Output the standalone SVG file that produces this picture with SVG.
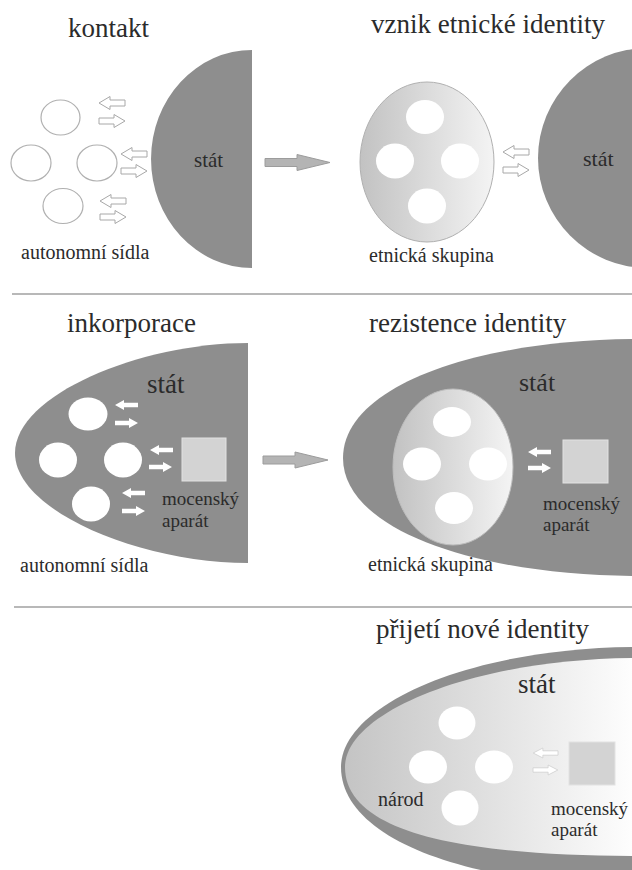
<svg xmlns="http://www.w3.org/2000/svg" width="632" height="870" viewBox="0 0 632 870">
<defs>
<path id="har" d="M0,-3 H15 V-6.5 L26,0 L15,6.5 V3 H0 Z" fill="#fff" stroke="#a8a8a8" stroke-width="1"/>
<path id="sar" d="M0,-2.2 H14 V-5 L23,0 L14,5 V2.2 H0 Z" fill="#fff"/>
<path id="par" d="M0,-2.2 H14 V-5 L23,0 L14,5 V2.2 H0 Z" fill="#fff" stroke="#d0d0d0" stroke-width="0.8"/>
<linearGradient id="g1" x1="0" y1="0" x2="1" y2="0">
<stop offset="0" stop-color="#c2c2c2"/><stop offset="1" stop-color="#f4f4f4"/>
</linearGradient>
<linearGradient id="g5" x1="0" y1="0" x2="1" y2="0">
<stop offset="0" stop-color="#c4c4c4"/><stop offset="1" stop-color="#ffffff"/>
</linearGradient>
</defs>

<g id="separators" stroke="#b8b8b8" stroke-width="2">
<line x1="12" y1="294" x2="632" y2="294"/>
<line x1="14" y1="607" x2="632" y2="607"/>
</g>

<g id="panel-kontakt">
<text style="font-family:'Liberation Serif'" fill="#2b2b2b" font-size="27" x="68" y="37">kontakt</text>
<path fill="#8e8e8e" d="M252,50 A101,109 0 0 0 252,268 Z"/>
<text style="font-family:'Liberation Serif'" fill="#2b2b2b" x="194" y="167" font-size="21">stát</text>
<g fill="#fff" stroke="#b0b0b0" stroke-width="1.2">
<ellipse cx="60.5" cy="117.5" rx="19.5" ry="17.5"/>
<ellipse cx="31" cy="163" rx="20" ry="18"/>
<ellipse cx="97" cy="163" rx="20" ry="18"/>
<ellipse cx="63" cy="206" rx="20" ry="17.5"/>
</g>
<text style="font-family:'Liberation Serif'" fill="#2b2b2b" font-size="20" x="21" y="259">autonomní sídla</text>
</g>

<g id="panel-vznik">
<text style="font-family:'Liberation Serif'" fill="#2b2b2b" font-size="27" x="371" y="33">vznik etnické identity</text>
<ellipse cx="427" cy="162" rx="67" ry="80" fill="url(#g1)" stroke="#b0b0b0" stroke-width="1"/>
<g fill="#fff">
<ellipse cx="425" cy="117" rx="19" ry="17"/>
<ellipse cx="395" cy="161" rx="19" ry="17.5"/>
<ellipse cx="460" cy="161" rx="19" ry="17.5"/>
<ellipse cx="427" cy="206" rx="19" ry="17.5"/>
</g>
<text style="font-family:'Liberation Serif'" fill="#2b2b2b" font-size="20" x="369" y="262">etnická skupina</text>
<circle fill="#8e8e8e" cx="648" cy="158" r="110"/>
<text style="font-family:'Liberation Serif'" fill="#2b2b2b" x="583" y="166" font-size="22">stát</text>
</g>

<g id="panel-inkorporace">
<text style="font-family:'Liberation Serif'" fill="#2b2b2b" font-size="27" x="67" y="332">inkorporace</text>
<path fill="#8e8e8e" d="M248,343 C140,343 15,395 15,453 C15,511 140,563 248,563 Z"/>
<text style="font-family:'Liberation Serif'" fill="#2b2b2b" x="147" y="393" font-size="27">stát</text>
<g fill="#fff">
<ellipse cx="88" cy="414" rx="19.5" ry="16.5"/>
<ellipse cx="58" cy="460" rx="19" ry="17.5"/>
<ellipse cx="123" cy="460" rx="19" ry="17.5"/>
<ellipse cx="91" cy="504" rx="19" ry="17.5"/>
</g>
<rect fill="#d3d3d3" stroke="#e2e2e2" x="182" y="438" width="44" height="43"/>
<text style="font-family:'Liberation Serif'" fill="#2b2b2b" font-size="19" x="162" y="505">mocenský</text>
<text style="font-family:'Liberation Serif'" fill="#2b2b2b" font-size="19" x="162" y="527">aparát</text>
<text style="font-family:'Liberation Serif'" fill="#2b2b2b" font-size="20" x="20" y="572">autonomní sídla</text>
</g>

<g id="panel-rezistence">
<text style="font-family:'Liberation Serif'" fill="#2b2b2b" font-size="27" x="369" y="332">rezistence identity</text>
<path fill="#8e8e8e" d="M640,339 C480,339 343,385 343,458 C343,531 480,576 640,576 Z"/>
<text style="font-family:'Liberation Serif'" fill="#2b2b2b" x="519" y="391" font-size="26">stát</text>
<ellipse cx="453" cy="467" rx="60" ry="78" fill="url(#g1)" stroke="#bdbdbd" stroke-width="1"/>
<g fill="#fff">
<ellipse cx="452" cy="422" rx="19" ry="15"/>
<ellipse cx="422" cy="464" rx="19" ry="16.5"/>
<ellipse cx="488" cy="464" rx="19" ry="16.5"/>
<ellipse cx="454" cy="508" rx="19" ry="16"/>
</g>
<rect fill="#d3d3d3" stroke="#e2e2e2" x="563" y="440" width="45" height="43"/>
<text style="font-family:'Liberation Serif'" fill="#2b2b2b" font-size="19" x="543" y="510">mocenský</text>
<text style="font-family:'Liberation Serif'" fill="#2b2b2b" font-size="19" x="543" y="531">aparát</text>
<text style="font-family:'Liberation Serif'" fill="#2b2b2b" font-size="20" x="368" y="571">etnická skupina</text>
</g>

<g id="panel-prijeti">
<text style="font-family:'Liberation Serif'" fill="#2b2b2b" font-size="27" x="376" y="638">přijetí nové identity</text>
<path fill="#8e8e8e" d="M640,647 C470,647 341,705 341,767 C341,840 470,886 640,886 Z"/>
<path fill="url(#g5)" d="M640,658 C475,658 345,712 345,767 C345,835 470,856 640,856 Z"/>
<text style="font-family:'Liberation Serif'" fill="#2b2b2b" x="518" y="693" font-size="27">stát</text>
<g fill="#fff">
<ellipse cx="457" cy="723" rx="18.5" ry="16.5"/>
<ellipse cx="428" cy="767" rx="19" ry="16.5"/>
<ellipse cx="494" cy="767" rx="19" ry="16.5"/>
<ellipse cx="460" cy="808" rx="18.5" ry="17.5"/>
</g>
<rect fill="#d3d3d3" stroke="#e2e2e2" x="569" y="742" width="46" height="43"/>
<text style="font-family:'Liberation Serif'" fill="#2b2b2b" font-size="20" x="378" y="806">národ</text>
<text style="font-family:'Liberation Serif'" fill="#2b2b2b" font-size="19" x="551" y="815">mocenský</text>
<text style="font-family:'Liberation Serif'" fill="#2b2b2b" font-size="19" x="551" y="836">aparát</text>
</g>

<g id="connectors">
<use href="#har" transform="translate(125,103) scale(-1,1)"/>
<use href="#har" transform="translate(99,121)"/>
<use href="#har" transform="translate(147,154) scale(-1,1)"/>
<use href="#har" transform="translate(121,171)"/>
<use href="#har" transform="translate(126,201) scale(-1,1)"/>
<use href="#har" transform="translate(100,217)"/>
<use href="#har" transform="translate(529,152) scale(-1,1)"/>
<use href="#har" transform="translate(503,170)"/>
<use href="#sar" transform="translate(138,405) scale(-1,1)"/>
<use href="#sar" transform="translate(115,423)"/>
<use href="#sar" transform="translate(173,450) scale(-1,1)"/>
<use href="#sar" transform="translate(149,467)"/>
<use href="#sar" transform="translate(145,493) scale(-1,1)"/>
<use href="#sar" transform="translate(122,511)"/>
<use href="#sar" transform="translate(551,452) scale(-1,1)"/>
<use href="#sar" transform="translate(528,468)"/>
<use href="#par" transform="translate(558,753) scale(-1.08,1)"/>
<use href="#par" transform="translate(533,770) scale(1.08,1)"/>
<path fill="#b4b4b4" stroke="#9c9c9c" stroke-width="1" d="M265,158.5 H297 V154.5 L330,162.5 L297,170.5 V166.5 H265 Z"/>
<path fill="#b4b4b4" stroke="#9c9c9c" stroke-width="1" d="M263,456 H295 V452 L328,460 L295,468 V464 H263 Z"/>
</g>
</svg>
